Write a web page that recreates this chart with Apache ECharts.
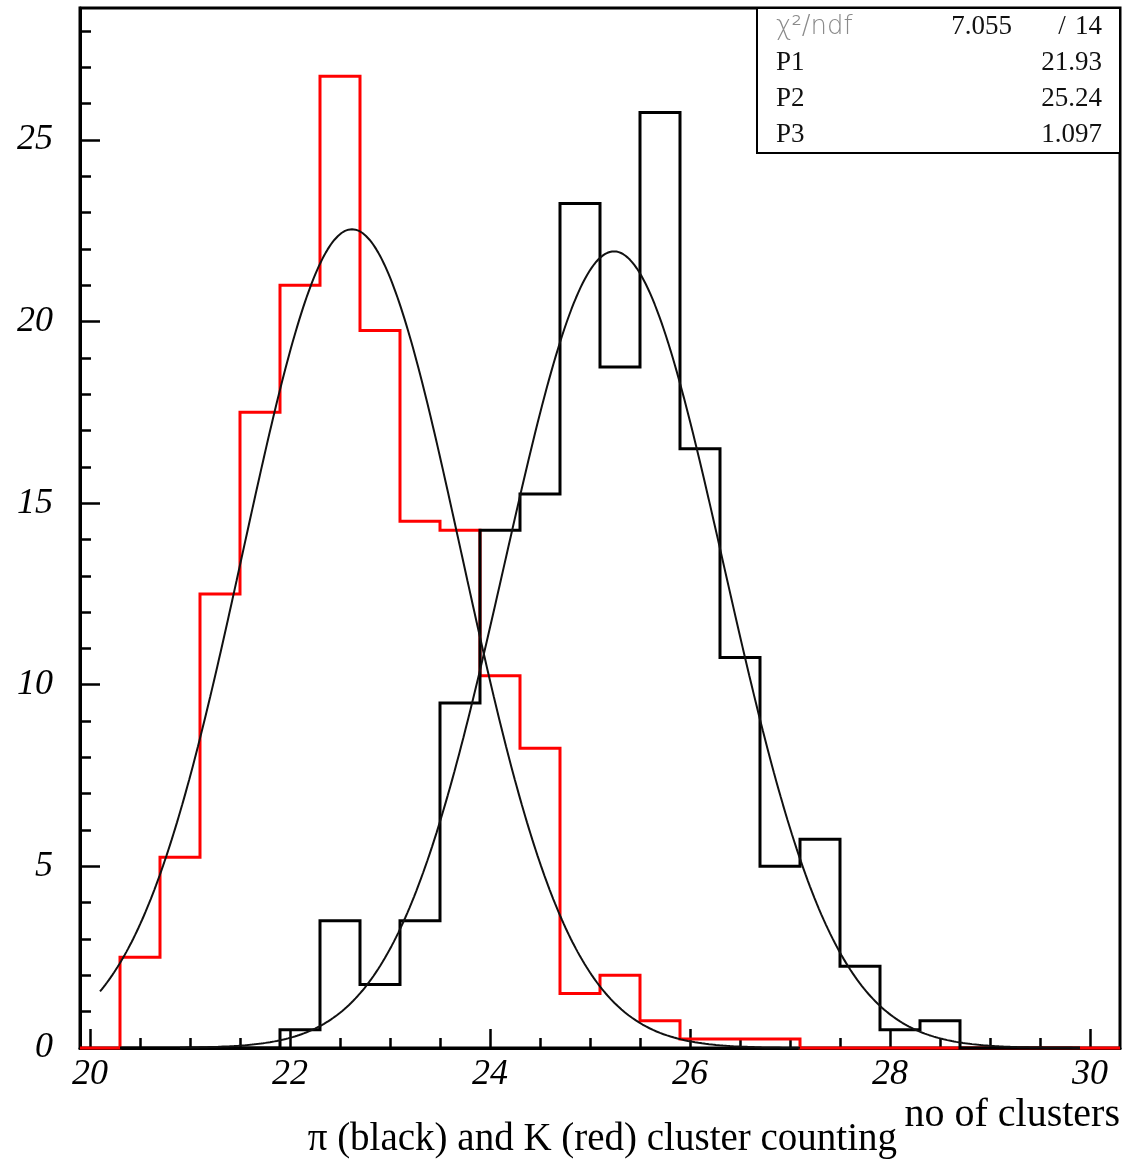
<!DOCTYPE html>
<html>
<head>
<meta charset="utf-8">
<script src="https://cdn.jsdelivr.net/npm/echarts@6/dist/echarts.min.js"></script>
<style>
  html, body { margin: 0; padding: 0; background: #fff; }
  #chart { width: 1130px; height: 1161px; }
</style>
</head>
<body>
<div id="chart"></div>
<script>
// Axis ranges
const xRange = [19.9, 30.3];
const yRange = [0, 28.63];

// Tick positions and labels
const xMajorTicks = [20, 22, 24, 26, 28, 30];
const xMinorTicks = [20, 20.5, 21, 21.5, 22, 22.5, 23, 23.5, 24, 24.5, 25, 25.5, 26, 26.5, 27, 27.5, 28, 28.5, 29, 29.5, 30];
const yMajorTicks = [0, 5, 10, 15, 20, 25];
const yMinorTicks = [0, 1, 2, 3, 4, 5, 6, 7, 8, 9, 10, 11, 12, 13, 14, 15, 16, 17, 18, 19, 20, 21, 22, 23, 24, 25, 26, 27, 28];

// Histograms: bin width 0.4 clusters
const binWidth = 0.4;
// K (red), bins starting at 19.9
const kaonStart = 19.9;
const kaonCounts = [0, 2.5, 5.25, 12.5, 17.5, 21.0, 26.75, 19.75, 14.5, 14.25, 10.25, 8.25, 1.5, 2.0, 0.75, 0.25, 0.25, 0.25, 0, 0, 0, 0, 0, 0, 0, 0];
// pi (black), bins starting at 20.3
const pionStart = 20.3;
const pionCounts = [0, 0, 0, 0, 0.5, 3.5, 1.75, 3.5, 9.5, 14.25, 15.25, 23.25, 18.75, 25.75, 16.5, 10.75, 5.0, 5.75, 2.25, 0.5, 0.75, 0, 0, 0];

// Gaussian fits: [amplitude, mean, sigma] and fit range
const kaonFit = [22.54, 22.62, 1.09];
const kaonFitRange = [20.1, 27.1];
const pionFit = [21.93, 25.24, 1.097];
const pionFitRange = [20.9, 29.9];

// Fit statistics box
const statNames = ['P1', 'P2', 'P3'];
const statValues = ['21.93', '25.24', '1.097'];
const chi2 = '7.055';
const ndf = '14';

// Step outline of a histogram: one point per bin's low edge, plus the last high edge
function histOutline(start, width, counts) {
  const pts = counts.map((c, i) => [+(start + i * width).toFixed(4), c]);
  pts.push([+(start + counts.length * width).toFixed(4), counts[counts.length - 1]]);
  return pts;
}

// Gaussian fit model evaluated over its fit range
function gaussCurve(par, range) {
  const [a, m, s] = par;
  const pts = [];
  const n = 400;
  for (let i = 0; i <= n; i++) {
    const x = range[0] + (range[1] - range[0]) * i / n;
    pts.push([x, a * Math.exp(-0.5 * ((x - m) / s) ** 2)]);
  }
  return pts;
}

const serif = '"Liberation Serif", "Times New Roman", serif';

const chart = echarts.init(document.getElementById('chart'), null, { renderer: 'canvas' });

const gridLeft = 80, gridTop = 8, gridRight = 10, gridBottom = 113;

const baseX = {
  type: 'value', min: xRange[0], max: xRange[1], position: 'bottom',
  splitLine: { show: false }
};
const baseY = {
  type: 'value', min: yRange[0], max: yRange[1], position: 'left',
  splitLine: { show: false }
};

const statFont = '27px ' + serif;

chart.setOption({
  animation: false,
  backgroundColor: '#fff',
  grid: {
    left: gridLeft, top: gridTop, right: gridRight, bottom: gridBottom,
    show: true, borderColor: '#000', borderWidth: 3, backgroundColor: 'transparent'
  },
  xAxis: [
    Object.assign({}, baseX, {
      axisLine: { show: true, lineStyle: { color: '#000', width: 3 } },
      axisTick: { show: true, inside: true, length: 19, customValues: xMajorTicks, lineStyle: { color: '#000', width: 2.5 } },
      axisLabel: {
        show: true, customValues: xMajorTicks, margin: 9,
        fontFamily: serif, fontStyle: 'italic', fontSize: 36, color: '#000'
      }
    }),
    Object.assign({}, baseX, {
      axisLine: { show: false },
      axisTick: { show: true, inside: true, length: 10, customValues: xMinorTicks, lineStyle: { color: '#000', width: 2.5 } },
      axisLabel: { show: false }
    })
  ],
  yAxis: [
    Object.assign({}, baseY, {
      axisLine: { show: true, lineStyle: { color: '#000', width: 3 } },
      axisTick: { show: true, inside: true, length: 20, customValues: yMajorTicks, lineStyle: { color: '#000', width: 2.5 } },
      axisLabel: {
        show: true, customValues: yMajorTicks, margin: 27,
        fontFamily: serif, fontStyle: 'italic', fontSize: 36, color: '#000'
      }
    }),
    Object.assign({}, baseY, {
      axisLine: { show: false },
      axisTick: { show: true, inside: true, length: 11, customValues: yMinorTicks, lineStyle: { color: '#000', width: 2.5 } },
      axisLabel: { show: false }
    })
  ],
  series: [
    {
      name: 'K', type: 'line', step: 'end', symbol: 'none', z: 3,
      data: histOutline(kaonStart, binWidth, kaonCounts),
      lineStyle: { color: '#ff0000', width: 3, join: 'miter', cap: 'butt' },
      clip: false
    },
    {
      name: 'pi', type: 'line', step: 'end', symbol: 'none', z: 4,
      data: histOutline(pionStart, binWidth, pionCounts),
      lineStyle: { color: '#000', width: 3, join: 'miter', cap: 'butt' },
      clip: false
    },
    {
      name: 'K fit', type: 'line', symbol: 'none', z: 5,
      data: gaussCurve(kaonFit, kaonFitRange),
      lineStyle: { color: '#111', width: 2 }
    },
    {
      name: 'pi fit', type: 'line', symbol: 'none', z: 5,
      data: gaussCurve(pionFit, pionFitRange),
      lineStyle: { color: '#111', width: 2 }
    }
  ],
  graphic: [
    // fit statistics box
    {
      type: 'rect', z: 10,
      shape: { x: 757, y: 8, width: 363, height: 145 },
      style: { fill: '#fff', stroke: '#000', lineWidth: 2 }
    },
    {
      type: 'text', z: 11, x: 776, y: 27,
      style: { text: 'χ²/ndf', fill: '#8a8a8a', font: '300 26px "DejaVu Sans", sans-serif', textAlign: 'left', textVerticalAlign: 'middle' }
    },
    {
      type: 'text', z: 11, x: 1012, y: 27,
      style: { text: chi2, fill: '#111', font: statFont, textAlign: 'right', textVerticalAlign: 'middle' }
    },
    {
      type: 'text', z: 11, x: 1062, y: 27,
      style: { text: '/', fill: '#111', font: statFont, textAlign: 'center', textVerticalAlign: 'middle' }
    },
    {
      type: 'text', z: 11, x: 1102, y: 27,
      style: { text: ndf, fill: '#111', font: statFont, textAlign: 'right', textVerticalAlign: 'middle' }
    },
    ...statNames.map((name, i) => ({
      type: 'text', z: 11, x: 776, y: 63 + 36 * i,
      style: { text: name, fill: '#111', font: statFont, textAlign: 'left', textVerticalAlign: 'middle' }
    })),
    ...statValues.map((val, i) => ({
      type: 'text', z: 11, x: 1102, y: 63 + 36 * i,
      style: { text: val, fill: '#111', font: statFont, textAlign: 'right', textVerticalAlign: 'middle' }
    })),
    // axis titles
    {
      type: 'text', z: 11, x: 1120, y: 1115,
      style: { text: 'no of clusters', fill: '#000', font: '40px ' + serif, textAlign: 'right', textVerticalAlign: 'middle' }
    },
    {
      type: 'text', z: 11, x: 897, y: 1140,
      style: { text: 'π (black) and K (red) cluster counting', fill: '#000', font: '39px ' + serif, textAlign: 'right', textVerticalAlign: 'middle' }
    }
  ]
});
</script>
</body>
</html>
